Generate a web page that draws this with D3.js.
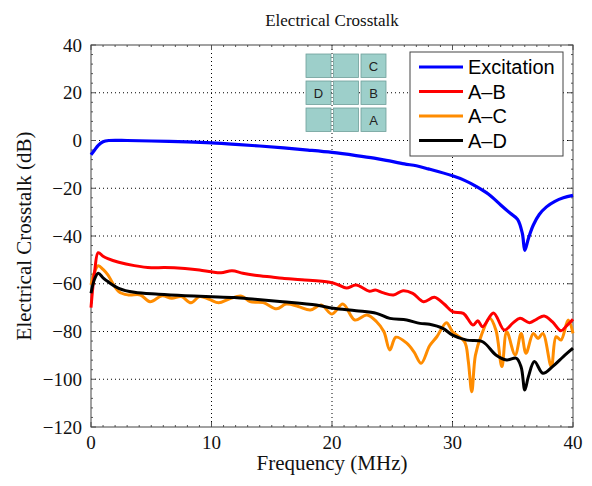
<!DOCTYPE html>
<html lang="en">
<head>
<meta charset="utf-8">
<title>Electrical Crosstalk</title>
<script src="https://d3js.org/d3.v7.min.js"></script>
<style>
  body { margin: 0; background: #fff; }
  .serif { font-family: "Liberation Serif", "DejaVu Serif", serif; fill: #111; }
  .legend text { font-family: "Liberation Sans", Arial, sans-serif; font-size: 20px; fill: #000; }
</style>
</head>
<body>
<script>
// ---- data (MHz, dB) ----
var excitation = [[0,-6],[0.3,-4],[0.6,-2],[1,-0.5],[1.5,0],[3,0],[5,-0.2],[8,-0.6],[10,-1],[12,-1.6],
  [14,-2.3],[16,-3.1],[18,-4],[20,-5],[22,-6.3],[23.5,-7.4],[24.5,-8.3],[26,-9.8],[27,-10.6],[28,-11.9],
  [30,-14.8],[31,-16.7],[32,-19.3],[33,-22.5],[34,-27],[34.8,-30.5],[35.4,-33],[35.8,-39],[36,-46],
  [36.3,-41],[36.7,-35.5],[37.2,-31],[37.8,-27.8],[38.5,-25.5],[39.2,-24],[40,-23]];

var ab = [[0,-70],[0.3,-55],[0.6,-47],[1,-48.5],[1.4,-49.5],[2.3,-51],[3.6,-52.4],[5,-53.3],[6.1,-53.2],
  [7.8,-53.6],[9,-54.2],[10,-55],[10.8,-55.4],[11.7,-54.6],[12.6,-55.6],[13.6,-56.4],[15,-57.2],[15.9,-57.7],
  [17.5,-58.3],[19.8,-59.4],[20.5,-60.4],[21.2,-61.8],[22,-60.5],[23.1,-63.1],[23.6,-62.6],[24.2,-63.7],
  [25.1,-64.7],[25.9,-62.9],[26.7,-64],[27.6,-67.5],[28.5,-65.7],[29.3,-68.5],[30,-71.7],[30.9,-72.4],
  [31.7,-77.3],[32.1,-75.5],[32.5,-78],[33.4,-72.2],[34.3,-79.4],[35,-76.5],[35.6,-74.5],[36.4,-76.3],
  [37,-74.8],[37.6,-73.5],[38.3,-76],[39,-79.7],[39.4,-78],[40,-74.9]];

var ac = [[0,-60.5],[0.3,-55],[0.6,-52.5],[1,-54],[1.4,-56.3],[2.3,-63.3],[3.1,-64.7],[4.1,-64.7],[4.9,-67.5],
  [5.9,-65],[6.7,-66.1],[7.5,-65.4],[8.3,-68],[9,-65.4],[9.8,-66.5],[10.6,-68],[11.5,-66.3],[12.5,-65.2],
  [13.2,-67.5],[14.3,-67.9],[15.4,-70.5],[16.2,-68.5],[17.2,-69.5],[18.2,-71],[19.1,-68.9],[20,-72.7],
  [20.9,-68.5],[21.9,-75.2],[22.9,-73.1],[23.7,-75.9],[24.3,-80],[24.8,-87.7],[25.3,-82.4],[26.2,-84.9],
  [26.8,-88.5],[27.4,-93.3],[28.1,-86],[28.7,-82.2],[29.5,-76.3],[30,-80.1],[31,-84.3],[31.3,-92],
  [31.6,-105.2],[31.9,-90],[32.4,-81.5],[33.1,-74.5],[33.6,-79.4],[34.1,-94.7],[34.5,-80.1],[35.2,-89.8],
  [35.7,-80.8],[36.1,-89.1],[36.7,-80.8],[37.1,-82.9],[37.5,-80.8],[38.2,-94.7],[38.6,-82.2],[39,-83.6],
  [39.6,-75.2],[40,-80.8]];

var ad = [[0,-64],[0.3,-58],[0.6,-55.6],[1,-57.5],[1.4,-59.1],[2.3,-61.9],[3.6,-63.6],[5.6,-64.4],[7.8,-65],
  [10,-65.4],[11.9,-65.8],[13.6,-66.5],[15.9,-67.5],[18.7,-68.9],[20.1,-70.3],[22,-71.3],[23.7,-72.4],
  [24.8,-74.5],[26.2,-75.2],[27.3,-76.6],[28.1,-77],[29.2,-78.7],[30,-81.5],[31.2,-83.6],[32.5,-84.3],
  [33.6,-89.8],[34.5,-91.9],[35.3,-91.2],[35.7,-95],[36,-104.5],[36.3,-98.9],[36.8,-92.6],[37.5,-97.5],
  [38.3,-94.7],[39.2,-90.5],[40,-87]];

var seriesNames = ["Excitation", "A\u2013B", "A\u2013C", "A\u2013D"];
var seriesColors = ["#0000ff", "#ff0000", "#ff8c00", "#000000"];
var seriesData = [excitation, ab, ac, ad];

var xTicks = [0, 10, 20, 30, 40];
var yTicks = [40, 20, 0, -20, -40, -60, -80, -100, -120];

// inset: 3x3 element grid, labels by [row, col]
var insetLabels = [[0, 2, "C"], [1, 0, "D"], [1, 2, "B"], [2, 2, "A"]];

// ---- layout ----
var W = 592, H = 486;
var margin = {left: 91, right: 19, top: 45, bottom: 59};
var pw = W - margin.left - margin.right;
var ph = H - margin.top - margin.bottom;

var svg = d3.select("body").append("svg").attr("width", W).attr("height", H);

var x = d3.scaleLinear().domain([0, 40]).range([margin.left, margin.left + pw]);
var y = d3.scaleLinear().domain([-120, 40]).range([margin.top + ph, margin.top]);

// grid
var grid = svg.append("g").attr("stroke", "#000").attr("stroke-width", 1).attr("stroke-dasharray", "1,3");
grid.selectAll(".gx").data(xTicks.slice(1, -1)).enter().append("line")
  .attr("x1", function(d){ return x(d); }).attr("x2", function(d){ return x(d); })
  .attr("y1", margin.top).attr("y2", margin.top + ph);
grid.selectAll(".gy").data(yTicks.slice(1, -1)).enter().append("line")
  .attr("y1", function(d){ return y(d); }).attr("y2", function(d){ return y(d); })
  .attr("x1", margin.left).attr("x2", margin.left + pw);

// minor + major ticks on all four sides (inward)
var ticks = svg.append("g").attr("stroke", "#555").attr("stroke-width", 1);
var xMinor = d3.range(0, 41, 1), yMinor = d3.range(-120, 41, 4);
xMinor.forEach(function(v){
  var len = v % 10 === 0 ? 5 : 2;
  ticks.append("line").attr("x1", x(v)).attr("x2", x(v)).attr("y1", margin.top + ph).attr("y2", margin.top + ph - len);
  ticks.append("line").attr("x1", x(v)).attr("x2", x(v)).attr("y1", margin.top).attr("y2", margin.top + len);
});
yMinor.forEach(function(v){
  var len = v % 20 === 0 ? 5 : 2;
  ticks.append("line").attr("y1", y(v)).attr("y2", y(v)).attr("x1", margin.left).attr("x2", margin.left + len);
  ticks.append("line").attr("y1", y(v)).attr("y2", y(v)).attr("x1", margin.left + pw).attr("x2", margin.left + pw - len);
});

// frame
svg.append("rect").attr("x", margin.left).attr("y", margin.top).attr("width", pw).attr("height", ph)
  .attr("fill", "none").attr("stroke", "#444").attr("stroke-width", 1);

// tick labels
svg.selectAll(".xl").data(xTicks).enter().append("text").attr("class", "serif")
  .attr("x", function(d){ return x(d); }).attr("y", margin.top + ph + 22)
  .attr("text-anchor", "middle").attr("font-size", "19px").text(d3.format("d"));
svg.selectAll(".yl").data(yTicks).enter().append("text").attr("class", "serif")
  .attr("x", margin.left - 9).attr("y", function(d){ return y(d) + 6.5; })
  .attr("text-anchor", "end").attr("font-size", "19px").text(d3.format("d"));

// titles
svg.append("text").attr("class", "serif").attr("x", x(20)).attr("y", 26)
  .attr("text-anchor", "middle").attr("font-size", "17px").text("Electrical Crosstalk");
svg.append("text").attr("class", "serif").attr("x", x(20)).attr("y", 470)
  .attr("text-anchor", "middle").attr("font-size", "21px").text("Frequency (MHz)");
svg.append("text").attr("class", "serif")
  .attr("transform", "translate(31," + (margin.top + ph / 2) + ") rotate(-90)")
  .attr("text-anchor", "middle").attr("font-size", "21px").text("Electrical Crosstalk (dB)");

// curves
var line = d3.line()
  .x(function(d){ return x(d[0]); })
  .y(function(d){ return y(d[1]); })
  .curve(d3.curveCatmullRom.alpha(0.5));

svg.append("g").selectAll("path").data([ac, ab, ad, excitation]).enter().append("path")
  .attr("d", line).attr("fill", "none")
  .attr("stroke", function(d){ return seriesColors[seriesData.indexOf(d)]; })
  .attr("stroke-width", function(d){ return d === excitation ? 3.2 : 3; })
  .attr("stroke-linejoin", "round");

// inset element grid
var inset = svg.append("g").attr("transform", "translate(306,54)");
for (var r = 0; r < 3; r++) {
  for (var c = 0; c < 3; c++) {
    inset.append("rect").attr("x", c * 27.5).attr("y", r * 27)
      .attr("width", 25).attr("height", 23.5)
      .attr("fill", "#9dcfca").attr("stroke", "#6e9e9a").attr("stroke-width", 0.8);
  }
}
inset.selectAll("text").data(insetLabels).enter().append("text")
  .attr("x", function(d){ return d[1] * 27.5 + 12.5; })
  .attr("y", function(d){ return d[0] * 27 + 16.5; })
  .attr("text-anchor", "middle")
  .attr("font-family", "Liberation Sans, Arial, sans-serif").attr("font-size", "13px").attr("fill", "#222")
  .text(function(d){ return d[2]; });

// legend
var lg = svg.append("g").attr("class", "legend");
lg.append("rect").attr("x", 410).attr("y", 52).attr("width", 153).attr("height", 104)
  .attr("fill", "#fff").attr("stroke", "#444").attr("stroke-width", 1);
seriesNames.forEach(function(name, i){
  var yy = 67 + i * 24.5;
  lg.append("line").attr("x1", 419).attr("x2", 463).attr("y1", yy).attr("y2", yy)
    .attr("stroke", seriesColors[i]).attr("stroke-width", 3);
  lg.append("text").attr("x", 468).attr("y", yy + 7).text(name);
});
</script>
</body>
</html>
